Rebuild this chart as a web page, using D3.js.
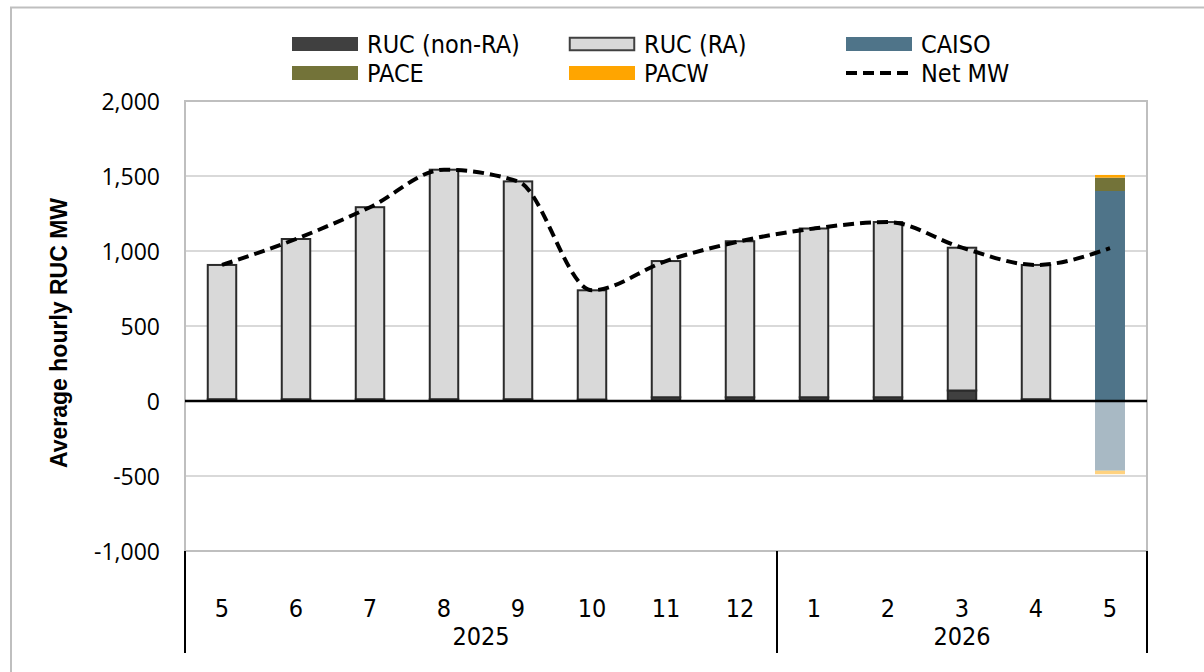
<!DOCTYPE html>
<html>
<head>
<meta charset="utf-8">
<script src="https://cdn.jsdelivr.net/npm/d3@7/dist/d3.min.js"></script>
<style>
  html, body { margin: 0; padding: 0; background: #ffffff; }
  svg { display: block; }
  .cond { font-family: "Liberation Sans Narrow", "DejaVu Sans Condensed", "Arial Narrow", sans-serif; }
</style>
</head>
<body>
<svg id="chart" width="1204" height="672"></svg>
<script>
// Months shown on the category axis and the year each belongs to
const months = ["5", "6", "7", "8", "9", "10", "11", "12", "1", "2", "3", "4", "5"];
const years  = ["2025", "2025", "2025", "2025", "2025", "2025", "2025", "2025",
                "2026", "2026", "2026", "2026", "2026"];

// Stacked series (MW)
const rucNonRA = [12, 12, 12, 12, 12, 10, 25, 25, 25, 25, 70, 12, 0];
const rucRA    = [895, 1068, 1280, 1530, 1452, 728, 908, 1040, 1125, 1168, 952, 895, 0];
const caisoIn  = [0, 0, 0, 0, 0, 0, 0, 0, 0, 0, 0, 0, 1400];
const paceIn   = [0, 0, 0, 0, 0, 0, 0, 0, 0, 0, 0, 0, 89];
const pacwIn   = [0, 0, 0, 0, 0, 0, 0, 0, 0, 0, 0, 0, 18];
const caisoOut = [0, 0, 0, 0, 0, 0, 0, 0, 0, 0, 0, 0, -462];
const paceOut  = [0, 0, 0, 0, 0, 0, 0, 0, 0, 0, 0, 0, -4];
const pacwOut  = [0, 0, 0, 0, 0, 0, 0, 0, 0, 0, 0, 0, -22];

// Net MW line
const netMW = [907, 1080, 1292, 1542, 1464, 738, 933, 1065, 1150, 1193, 1022, 907, 1019];

// Value axis ticks
const yTicks = [-1000, -500, 0, 500, 1000, 1500, 2000];

const seriesDefs = [
  { key: "rucNonRA", values: rucNonRA, fill: "#404040", stroke: "#2b2b2b" },
  { key: "rucRA",    values: rucRA,    fill: "#d9d9d9", stroke: "#2b2b2b" },
  { key: "caisoIn",  values: caisoIn,  fill: "#4f7489", stroke: null },
  { key: "paceIn",   values: paceIn,   fill: "#737339", stroke: null },
  { key: "pacwIn",   values: pacwIn,   fill: "#ffa500", stroke: null },
  { key: "caisoOut", values: caisoOut, fill: "#a8b9c4", stroke: null },
  { key: "paceOut",  values: paceOut,  fill: "#b9b99c", stroke: null },
  { key: "pacwOut",  values: pacwOut,  fill: "#ffd27f", stroke: null }
];

const legendItems = [
  { label: "RUC (non-RA)", fill: "#404040", stroke: null, col: 0, row: 0 },
  { label: "RUC (RA)",     fill: "#d9d9d9", stroke: "#404040", col: 1, row: 0 },
  { label: "CAISO",        fill: "#4f7489", stroke: null, col: 2, row: 0 },
  { label: "PACE",         fill: "#737339", stroke: null, col: 0, row: 1 },
  { label: "PACW",         fill: "#ffa500", stroke: null, col: 1, row: 1 },
  { label: "Net MW",       line: true, col: 2, row: 1 }
];

const svg = d3.select("#chart");
const plot = { left: 185, right: 1147, top: 101, bottom: 551 };

// Outer chart frame
svg.append("rect")
  .attr("x", 11).attr("y", 7.5).attr("width", 1210).attr("height", 680)
  .attr("fill", "#ffffff").attr("stroke", "#bfbfbf").attr("stroke-width", 2);

const idx = months.map((d, i) => i);
const x = d3.scaleBand().domain(idx).range([plot.left, plot.right])
  .paddingInner(0.595).paddingOuter(0.2975);
const step = x.step();
const y = d3.scaleLinear().domain([-1000, 2000]).range([plot.bottom, plot.top]);

// Gridlines
svg.append("g").selectAll("line")
  .data(yTicks.filter(v => v !== 0))
  .join("line")
  .attr("x1", plot.left).attr("x2", plot.right)
  .attr("y1", d => y(d)).attr("y2", d => y(d))
  .attr("stroke", "#d9d9d9").attr("stroke-width", 2);

// Plot area border
svg.append("rect")
  .attr("x", plot.left).attr("y", y(2000))
  .attr("width", plot.right - plot.left).attr("height", y(-1000) - y(2000))
  .attr("fill", "none").attr("stroke", "#bfbfbf").attr("stroke-width", 2);

// Y axis tick labels (plain hyphen for negatives)
const fmt = d3.format(",");
const yAxis = d3.axisLeft(y).tickValues(yTicks).tickSize(0).tickPadding(0)
  .tickFormat(d => fmt(d).replace("\u2212", "-"));
const yg = svg.append("g").attr("transform", `translate(${plot.left - 25},0)`).call(yAxis);
yg.select(".domain").remove();
yg.selectAll("text")
  .attr("font-family", "'Open Sans', sans-serif")
  .attr("font-size", 23)
  .attr("fill", "#000")
  .attr("dy", "0.35em");

// Y axis title
svg.append("text")
  .attr("transform", `translate(67,333) rotate(-90)`)
  .attr("text-anchor", "middle")
  .attr("font-family", "'Liberation Sans', Arial, sans-serif")
  .attr("font-weight", "bold")
  .attr("font-size", 23)
  .attr("fill", "#000")
  .text("Average hourly RUC MW");

// Stacked bars
const rows = idx.map(i => {
  const r = {};
  seriesDefs.forEach(s => { r[s.key] = s.values[i]; });
  return r;
});
const stack = d3.stack().keys(seriesDefs.map(s => s.key)).offset(d3.stackOffsetDiverging);
const stacked = stack(rows);

const barG = svg.append("g");
stacked.forEach((layer, li) => {
  const def = seriesDefs[li];
  barG.append("g").selectAll("rect")
    .data(layer.map((d, i) => ({ d, i })).filter(o => o.d[1] !== o.d[0]))
    .join("rect")
    .attr("x", o => x(o.i) + (def.stroke ? 0.75 : 0))
    .attr("width", x.bandwidth() - (def.stroke ? 1.5 : 0))
    .attr("y", o => y(Math.max(o.d[0], o.d[1])))
    .attr("height", o => Math.abs(y(o.d[0]) - y(o.d[1])))
    .attr("fill", def.fill)
    .attr("stroke", def.stroke || "none")
    .attr("stroke-width", def.stroke ? 2 : 0);
});

// Zero line
svg.append("line")
  .attr("x1", plot.left).attr("x2", plot.right)
  .attr("y1", y(0)).attr("y2", y(0))
  .attr("stroke", "#000").attr("stroke-width", 2.5);

// Net MW smoothed dashed line
const line = d3.line()
  .x((d, i) => x(i) + x.bandwidth() / 2)
  .y(d => y(d))
  .curve(d3.curveMonotoneX);
svg.append("path")
  .datum(netMW)
  .attr("d", line)
  .attr("fill", "none")
  .attr("stroke", "#000")
  .attr("stroke-width", 4)
  .attr("stroke-dasharray", "11,6");

// Two-level category axis
const catG = svg.append("g");
const labelTop = plot.bottom;
const labelBottom = 653;
catG.selectAll("text.month")
  .data(months)
  .join("text")
  .attr("class", "month cond")
  .attr("x", (d, i) => x(i) + x.bandwidth() / 2)
  .attr("y", 608)
  .attr("dy", "0.35em")
  .attr("text-anchor", "middle")
  .attr("font-size", 25)
  .attr("fill", "#000")
  .text(d => d);

const yearGroups = d3.groups(idx, i => years[i]).map(([yr, is]) => ({
  yr, start: d3.min(is), end: d3.max(is)
}));
const edge = i => plot.left + i * step;
catG.selectAll("text.year")
  .data(yearGroups)
  .join("text")
  .attr("class", "year cond")
  .attr("x", g => (edge(g.start) + edge(g.end + 1)) / 2)
  .attr("y", 636)
  .attr("dy", "0.35em")
  .attr("text-anchor", "middle")
  .attr("font-size", 25)
  .attr("fill", "#000")
  .text(g => g.yr);

const sepX = [edge(0)].concat(yearGroups.map(g => edge(g.end + 1)));
catG.selectAll("line.sep")
  .data(sepX)
  .join("line")
  .attr("x1", d => d).attr("x2", d => d)
  .attr("y1", labelTop).attr("y2", labelBottom)
  .attr("stroke", "#000").attr("stroke-width", 2);

// Legend
const colX = [292, 569, 846];
const rowY = [44, 73];
const lg = svg.append("g");
legendItems.forEach(item => {
  const gx = colX[item.col], gy = rowY[item.row];
  if (item.line) {
    lg.append("line")
      .attr("x1", gx).attr("x2", gx + 66)
      .attr("y1", gy).attr("y2", gy)
      .attr("stroke", "#000").attr("stroke-width", 4)
      .attr("stroke-dasharray", "11,6");
  } else {
    lg.append("rect")
      .attr("x", gx + (item.stroke ? 0.75 : 0)).attr("y", gy - 7 + (item.stroke ? 0.75 : 0))
      .attr("width", 66 - (item.stroke ? 1.5 : 0)).attr("height", 14 - (item.stroke ? 1.5 : 0))
      .attr("fill", item.fill)
      .attr("stroke", item.stroke || "none")
      .attr("stroke-width", item.stroke ? 2 : 0);
  }
  lg.append("text")
    .attr("class", "cond")
    .attr("x", gx + 75)
    .attr("y", gy)
    .attr("dy", "0.35em")
    .attr("font-size", 25)
    .attr("fill", "#000")
    .text(item.label);
});
</script>
</body>
</html>
